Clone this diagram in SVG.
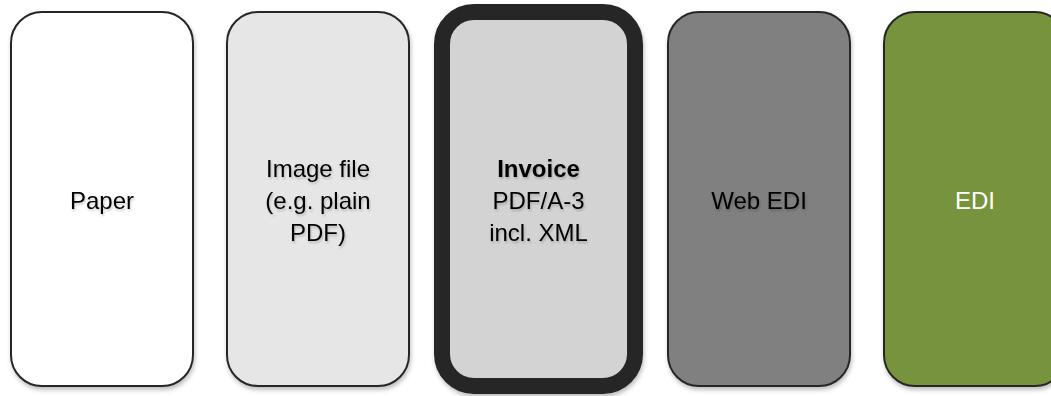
<svg xmlns="http://www.w3.org/2000/svg" width="1051" height="396" viewBox="0 0 1051 396">
<defs>
<style>
.box{stroke:#262626;stroke-width:2}
.lbl{font-family:"Liberation Sans",Arial,sans-serif;font-size:24px;text-anchor:middle;fill:#000}
</style>
<filter id="sh" x="-10%" y="-5%" width="120%" height="115%">
<feDropShadow dx="1" dy="3" stdDeviation="2" flood-color="#000" flood-opacity="0.25"/>
</filter>
<filter id="tsh" x="-10%" y="-20%" width="120%" height="150%">
<feDropShadow dx="1" dy="2" stdDeviation="1.2" flood-color="#000" flood-opacity="0.2"/>
</filter>
</defs>
<g id="paper">
<rect class="box" x="11" y="12" width="182" height="374" rx="31" fill="#ffffff" filter="url(#sh)"/>
<text class="lbl" x="102" y="209" filter="url(#tsh)">Paper</text>
</g>
<g id="image-file">
<rect class="box" x="227" y="12" width="182" height="374" rx="31" fill="#e6e6e6" filter="url(#sh)"/>
<text class="lbl" x="318" y="177" filter="url(#tsh)">Image file</text>
<text class="lbl" x="318" y="209" filter="url(#tsh)">(e.g. plain</text>
<text class="lbl" x="318" y="241" filter="url(#tsh)">PDF)</text>
</g>
<g id="invoice">
<rect x="442" y="12" width="193" height="374" rx="32" fill="#d3d3d3" stroke="#262626" stroke-width="16" filter="url(#sh)"/>
<text class="lbl" x="538.5" y="177" font-weight="bold" filter="url(#tsh)">Invoice</text>
<text class="lbl" x="538.5" y="209" filter="url(#tsh)">PDF/A-3</text>
<text class="lbl" x="538.5" y="241" filter="url(#tsh)">incl. XML</text>
</g>
<g id="web-edi">
<rect class="box" x="668" y="12" width="182" height="374" rx="31" fill="#808080" filter="url(#sh)"/>
<text class="lbl" x="759" y="209" filter="url(#tsh)">Web EDI</text>
</g>
<g id="edi">
<rect class="box" x="884" y="12" width="182" height="374" rx="31" fill="#77933c" filter="url(#sh)"/>
<text class="lbl" x="975" y="209" style="fill:#ffffff">EDI</text>
</g>
<g id="connectors"></g>
</svg>
